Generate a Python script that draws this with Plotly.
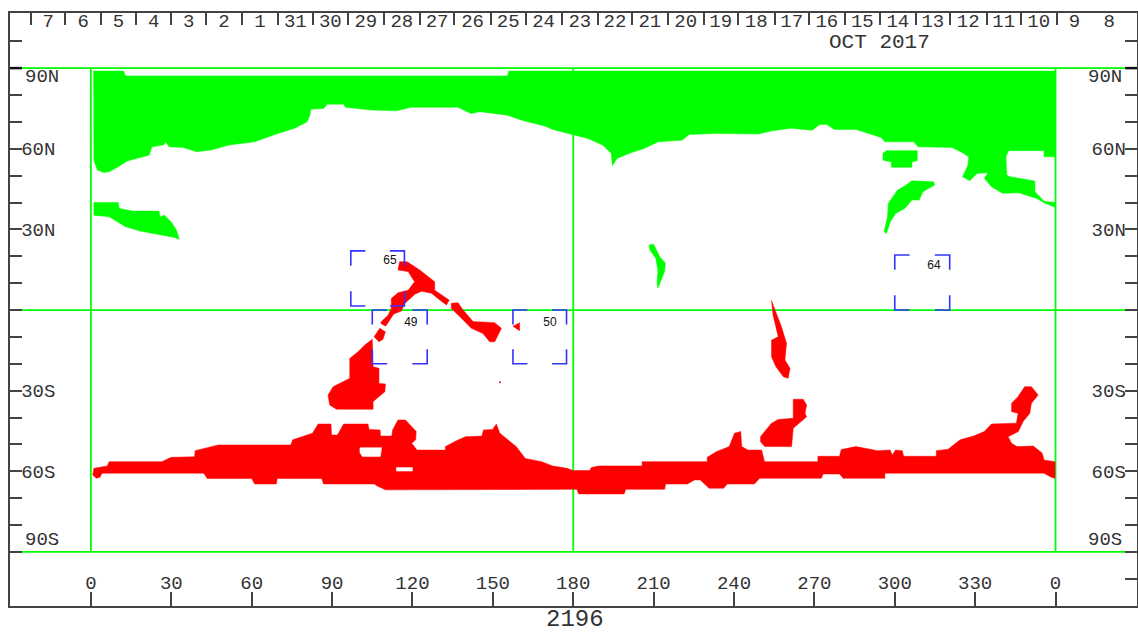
import plotly.graph_objects as go

# --- Axis values -----------------------------------------------------------
lon_ticks = [0, 30, 60, 90, 120, 150, 180, 210, 240, 270, 300, 330, 360]
lon_labels = ["0", "30", "60", "90", "120", "150", "180", "210", "240", "270", "300", "330", "0"]
lat_ticks = [-100, -90, -80, -70, -60, -50, -40, -30, -20, -10, 0, 10, 20, 30, 40, 50, 60, 70, 80, 90, 100]
lat_labels = ["", "", "", "", "60S", "", "", "30S", "", "", "", "", "", "30N", "", "", "60N", "", "", "", ""]
day_ticks = [-22.4, -9.5, 3.7, 16.8, 30, 43, 56.3, 69.8, 82.8, 95.9, 109.3, 122.8, 135.6, 149.3, 162.2, 175.7,
             189.2, 201.9, 215.3, 228.7, 241.4, 255.2, 267.9, 281.4, 294.4, 307.9, 320.5, 334.3, 347, 360.4, 373.8, 386.2]
day_labels = ["7", "6", "5", "4", "3", "2", "1", "31", "30", "29", "28", "27", "26", "25", "24", "23", "22",
              "21", "20", "19", "18", "17", "16", "15", "14", "13", "12", "11", "10", "9", "8"]

# --- Green regions (lon, lat) ----------------------------------------------
arctic_lon = [1, 12.2, 12.9, 155.4, 156, 359.8, 359.8, 355.7, 355.7, 355.4, 342.5, 341.5, 341.8, 342.9, 352.3, 352.3,
              355.7, 359.8, 359.8, 355.7, 353, 346.3, 340.2, 336.1, 333.4, 334.8, 330.7, 328, 325.3, 327.3, 327.6, 325.3,
              321.3, 308.7, 307, 296.3, 294.9, 285.5, 277.4, 274.7, 271.9, 269.2, 261.1, 254.4, 249, 232.8, 223.3, 220.6,
              211.8, 206.4, 201, 196.3, 194.6, 194.2, 190.9, 185.5, 180, 178.8, 172.3, 169.6, 161.5, 155.4, 145.2, 141.8,
              137, 119.4, 114, 104.5, 95, 94.3, 88.2, 86.8, 82.1, 81.7, 80.7, 76, 69.2, 61.1, 51.6, 44.8, 39.3, 34.6, 29.2,
              27.8, 27.1, 22.8, 21.7, 17, 13.6, 10.2, 6.8, 4.7, 2.4, 1.1]
arctic_lat = [88.9, 88.9, 87.1, 87.1, 88.9, 88.9, 57, 57, 59.3, 59.3, 59.3, 57, 50.2, 49.6, 48, 44,
              40.5, 40, 38.2, 39.9, 41.5, 43.6, 43.4, 45.9, 49, 51.1, 50.8, 48.1, 49.6, 53.9, 57, 58.5,
              60.5, 60.7, 62.6, 62.6, 64.2, 67.2, 67.2, 69, 69, 66.9, 67.6, 66.7, 65.5, 65.7, 65.3, 63.2,
              62.6, 60.1, 58.3, 56.4, 53.7, 58.3, 61.4, 63.8, 65.3, 65.7, 67.2, 68.4, 70.4, 72.5, 73.8, 73.1,
              75.4, 75.4, 74.1, 74.4, 75.4, 76.6, 76.6, 75, 74.7, 72.5, 70, 67.6, 65.5, 62.6, 61.4, 59.5, 58.9, 60.5, 60.7,
              62.6, 61.4, 60.7, 57.6, 56.4, 55.4, 53.3, 51.4, 51.2, 52.1, 55.8]
labrador_lon = [295.6, 296.9, 308.4, 308.4, 306.4, 306.4, 298.7, 298.7, 295.6]
labrador_lat = [58.3, 59.3, 59.3, 55.6, 55, 53.1, 53.1, 55.2, 55.7]
atlantic_lon = [306.4, 314.5, 314.9, 310.5, 309.1, 306.4, 303.7, 300.3, 298.3, 296.9, 296, 297.3, 297.6, 301, 303.7]
atlantic_lat = [48.1, 47.7, 46.5, 44, 40.9, 40.9, 37.8, 35.9, 32.8, 28.5, 29.1, 34.7, 39.7, 44.6, 46.1]
west_lon = [1.1, 10.2, 10.6, 15.6, 25.4, 25.8, 27.4, 29.9, 31.9, 33, 31.2, 25.8, 18.3, 12.9, 6.8, 1.1]
west_lat = [40, 40, 37.8, 36.8, 36.8, 34.7, 35.3, 32.8, 29.8, 26.3, 27, 28.1, 29.4, 31, 34.7, 35.3]
pacific_lon = [208.3, 210, 212.3, 214.4, 214.1, 212.9, 211.6, 211.3, 211.6, 210.8, 208.6]
pacific_lat = [24.2, 24.5, 19.8, 17.4, 14.3, 11.2, 8.2, 9.3, 14.9, 19.3, 22.3]

# --- Red regions (lon, lat) ------------------------------------------------
band_lon = [1.1, 6.1, 6.8, 26.5, 29.9, 38.7, 38.9, 47.5, 74.6, 75.3, 82.7, 84.8, 89.6, 89.8, 92, 94.3, 103.4, 103.8,
            107.9, 108.1, 112.3, 112.6, 114.6, 117.4, 121.4, 121.2, 119.7, 121.7, 132.3, 132.3, 136.4, 139.8, 145.9,
            146.5, 149.9, 151.3, 152.6, 158.7, 162.1, 168.2, 172.3, 177.7, 180, 186.1, 186.8, 189.5, 205.7, 205.7,
            219.2, 230, 230, 233.4, 238.2, 240.2, 242.5, 242.9, 245.2, 250.3, 251.4, 271.3, 271.3, 279.4, 280, 285.5,
            293.6, 298.3, 299, 300.3, 302.8, 303.3, 315.5, 315.5, 319.9, 324.4, 329.4, 333.4, 336.1, 345.4, 346, 343.6,
            343.6, 346, 348.5, 351, 353.5, 351, 350.4, 347.9, 346.1, 342.3, 343.6, 345.6, 351.7, 355, 355.7, 359.8,
            359.8, 358.4, 355.7, 296.3, 296.3, 280.7, 279.4, 273.3, 272.6, 249.6, 247.6, 237.5, 236.1, 230.7, 227.4,
            225.3, 222.6, 214.5, 214.1, 199.6, 199, 182, 181.4, 178.7, 109.9, 106.5, 105.8, 86.8, 86.2, 69.5, 69.2,
            61.1, 60, 43.4, 42.1, 4.1, 3.4, 2, 0.7]
band_lat = [-58.9, -58, -56.4, -56.4, -54.8, -54.6, -52.3, -50.2, -50.2, -48.3, -45.8, -42.4, -42.4, -46.5, -46.5, -42.4,
            -42.4, -44.4, -44.6, -46.9, -46.9, -44.6, -40.9, -40.9, -45.2, -48.3, -49.6, -52.1, -52.1, -50.8, -48.6,
            -47.1, -46.9, -44.6, -44.4, -42.4, -45.8, -50.8, -55.2, -56.4, -58, -58.9, -59.7, -59.7, -58.6, -58, -58,
            -56.4, -56.4, -56.4, -54.8, -52.7, -50.8, -45.8, -45.2, -50.8, -52.1, -52.1, -56.4, -56.4, -54.4, -54.4,
            -51.9, -50.8, -52.3, -52.1, -53.9, -52.1, -52.3, -54.4, -54.4, -52.3, -51.8, -48.3, -46.9, -45.2, -42.4,
            -42.1, -38.4, -37.8, -34.7, -32.2, -28.5, -28.5, -31.6, -34.7, -38.4, -41.5, -45.2, -47.1, -49.6, -50.8,
            -50.6, -53.2, -55.8, -56.4, -62.6, -62.2, -60.7, -60.7, -62.6, -62.6, -61, -61, -62.6, -62.6, -64.7, -64.7,
            -66.3, -66.3, -63.2, -63.2, -64.7, -64.7, -66.7, -66.7, -68.4, -68.4, -66.7, -66.7, -66.9, -65.3, -64.7,
            -64.7, -62.7, -62.7, -64.7, -64.7, -62.7, -62.7, -60.7, -60.7, -62.2, -62.6, -61.4]
hole_a_lon = [100.4, 108.5, 108, 101.3, 100.4]
hole_a_lat = [-51.2, -51.2, -54.5, -54.5, -53]
hole_b_lon = [114, 120, 120, 114]
hole_b_lat = [-58.6, -58.6, -59.9, -59.9]
indian_lon = [105, 105.3, 107.5, 107.5, 109.9, 109.7, 107.5, 105.3, 105.3, 91.6, 89.1, 88.5, 90.4, 94.1, 96.6, 96.6, 99.7, 102.2]
indian_lat = [-10.9, -21.1, -21.7, -27.3, -27.5, -30.4, -32.2, -34.1, -36.9, -36.9, -35.3, -31.6, -28.5, -26.7, -25.4, -18, -15.5, -13]
blob_lon = [107.8, 109.9, 109, 107.5, 105.7]
blob_lat = [-6.8, -8.1, -10.9, -11.8, -9.9]
vee_lon = [108.4, 110.9, 112.1, 112.1, 114.6, 118.4, 120.8, 118.4, 114.6, 115.2, 118, 122.7, 128.3, 128.3, 133.7, 132.7,
           130.2, 127.1, 123.5, 121, 117.2, 115.8, 113, 110, 108.2]
vee_lat = [-4.3, -1.9, 0.6, 4.3, 6.4, 7.4, 10.5, 14.3, 14.9, 18, 18, 14.9, 10.5, 7.4, 3.7, 1.9,
           3.7, 6.2, 7, 6, 2.5, -0.4, -1.5, -6, -5]
arm_lon = [134.5, 137, 138.9, 142.6, 150.7, 153.2, 150.7, 148.8, 146.3, 142, 138.3, 134.5]
arm_lat = [2.5, 2.7, 0, -4.3, -4.7, -6.8, -11.8, -11.8, -8.7, -6.8, -3.1, 0.6]
tri_lon = [157.5, 160, 160]
tri_lat = [-6, -4.7, -7.7]
spike_lon = [254, 255.3, 257.7, 259.6, 259, 260.9, 260.2, 258.4, 255.6, 254, 254, 256.5, 254.6]
spike_lat = [3.5, 0, -6.2, -12.4, -18.6, -21.7, -25.4, -24.8, -21, -17.4, -11.2, -9.9, -1.9]
samerica_lon = [262.1, 265.8, 267.1, 266.5, 267.1, 262.1, 261.5, 251.5, 249.9, 249.9, 254, 256.5, 262.1]
samerica_lat = [-33.2, -33.2, -35.3, -38.4, -39.7, -44, -50.8, -50.8, -49, -47.1, -42.1, -40.7, -40.3]
speck_lon = [152.7]
speck_lat = [-26.9]

# --- Boxes -----------------------------------------------------------------
box_names = ["65", "49", "50", "64"]
box_lon0 = [97, 105, 157.5, 300]
box_lon1 = [117, 125.5, 177.5, 320.5]
box_lat0 = [1.5, -20, -20, 0]
box_lat1 = [22, 0, 0, 20.5]
box_label_lon = [111.6, 119.4, 171.3, 314.6]
box_label_lat = [18.2, -4.8, -4.8, 16.4]

GREEN = "#00ff00"
RED = "#ff0000"
BLUE = "#3333ff"
FRAME = "#444444"
INK = "#333333"
MONO = "Liberation Mono"
X_RANGE = [-30.2, 390.4]
Y_RANGE = [-110.1, 110.5]

fig = go.Figure()


def add_line(xs, ys, width=1.8):
    fig.add_trace(go.Scatter(x=xs, y=ys, mode="lines", line=dict(color=GREEN, width=width),
                             hoverinfo="skip", showlegend=False))


# Reference lines sit underneath the filled regions
add_line([-26, 386], [90, 90])
add_line([-26, 386], [-90, -90])
add_line(X_RANGE, [0, 0])
for meridian in (0, 180, 360):
    add_line([meridian, meridian], [-90, 90])


def add_region(xs, ys, color):
    fig.add_trace(go.Scatter(x=xs + xs[:1], y=ys + ys[:1], mode="lines", fill="toself", fillcolor=color,
                             line=dict(color=color, width=0.5), hoverinfo="skip", showlegend=False))


for xs, ys in [(arctic_lon, arctic_lat), (labrador_lon, labrador_lat), (atlantic_lon, atlantic_lat),
               (west_lon, west_lat), (pacific_lon, pacific_lat)]:
    add_region(xs, ys, GREEN)
for xs, ys in [(band_lon, band_lat), (indian_lon, indian_lat), (blob_lon, blob_lat), (vee_lon, vee_lat),
               (arm_lon, arm_lat), (tri_lon, tri_lat), (spike_lon, spike_lat), (samerica_lon, samerica_lat)]:
    add_region(xs, ys, RED)
for xs, ys in [(hole_a_lon, hole_a_lat), (hole_b_lon, hole_b_lat)]:
    add_region(xs, ys, "#ffffff")
fig.add_trace(go.Scatter(x=speck_lon, y=speck_lat, mode="markers", marker=dict(color=RED, size=2),
                         hoverinfo="skip", showlegend=False))

# Corner brackets of the four boxes
ARM = 0.27
for x0, x1, y0, y1 in zip(box_lon0, box_lon1, box_lat0, box_lat1):
    dx = (x1 - x0) * ARM
    dy = (y1 - y0) * ARM
    xs = [x0, x0, x0 + dx, None, x1 - dx, x1, x1, None, x1, x1, x1 - dx, None, x0 + dx, x0, x0]
    ys = [y1 - dy, y1, y1, None, y1, y1, y1 - dy, None, y0 + dy, y0, y0, None, y0, y0, y0 + dy]
    fig.add_trace(go.Scatter(x=xs, y=ys, mode="lines", line=dict(color=BLUE, width=1.6),
                             hoverinfo="skip", showlegend=False))
fig.add_trace(go.Scatter(x=box_label_lon, y=box_label_lat, mode="text", text=box_names,
                         textfont=dict(family="Liberation Sans", size=12, color="#111111"),
                         hoverinfo="skip", showlegend=False))

# Day labels sit between the day ticks on the top axis
day_mid = [(a + b) / 2 for a, b in zip(day_ticks[:-1], day_ticks[1:])]
fig.add_trace(go.Scatter(x=day_mid, y=[107] * len(day_mid), mode="text", text=day_labels,
                         textfont=dict(family=MONO, size=19, color=INK),
                         xaxis="x2", yaxis="y2", hoverinfo="skip", showlegend=False))

common = dict(showgrid=False, zeroline=False, showline=True, linecolor=FRAME, linewidth=2,
              ticks="inside", tickcolor=FRAME, tickwidth=1.5,
              tickfont=dict(family=MONO, size=19, color=INK))

fig.update_layout(
    width=1138, height=635, margin=dict(l=10, r=1, t=13, b=29, pad=0),
    paper_bgcolor="white", plot_bgcolor="white", showlegend=False,
    xaxis=dict(range=X_RANGE, side="bottom", tickmode="array", tickvals=lon_ticks, ticktext=lon_labels,
               ticklen=14, ticklabelposition="inside", **common),
    xaxis2=dict(range=X_RANGE, side="top", overlaying="x", anchor="y", tickmode="array", tickvals=day_ticks,
                ticktext=[""] * len(day_ticks), ticklen=12, **common),
    yaxis=dict(range=Y_RANGE, side="left", tickmode="array", tickvals=lat_ticks, ticktext=lat_labels,
               ticklen=12, ticklabelposition="inside", **common),
    yaxis2=dict(range=Y_RANGE, side="right", overlaying="y", anchor="x", tickmode="array", tickvals=lat_ticks,
                ticktext=lat_labels, ticklen=12, ticklabelposition="inside", **common),
    shapes=[dict(type="line", xref="paper", x0=0, x1=0.0105, yref="y", y0=90, y1=90, line=dict(color="#111111", width=2.5)),
            dict(type="line", xref="paper", x0=0.9895, x1=1, yref="y", y0=90, y1=90, line=dict(color="#111111", width=2.5))],
    annotations=[
        dict(text="90N", xref="paper", x=0.0115, xanchor="left", yref="y", y=86.8, yanchor="middle", showarrow=False,
             font=dict(family=MONO, size=19, color=INK)),
        dict(text="90S", xref="paper", x=0.0115, xanchor="left", yref="y", y=-85.5, yanchor="middle", showarrow=False,
             font=dict(family=MONO, size=19, color=INK)),
        dict(text="90N", xref="paper", x=0.9885, xanchor="right", yref="y", y=86.8, yanchor="middle", showarrow=False,
             font=dict(family=MONO, size=19, color=INK)),
        dict(text="90S", xref="paper", x=0.9885, xanchor="right", yref="y", y=-85.5, yanchor="middle", showarrow=False,
             font=dict(family=MONO, size=19, color=INK)),
        dict(text="OCT 2017", xref="x", x=294.4, xanchor="center", yref="y", y=99.7, yanchor="middle", showarrow=False,
             font=dict(family=MONO, size=21, color=INK)),
        dict(text="2196", xref="x", x=180.5, xanchor="center", yref="paper", y=-0.022, yanchor="middle", showarrow=False,
             font=dict(family=MONO, size=24, color=INK)),
    ],
)

fig.write_html("out.html", config={"displayModeBar": False}, post_script="document.body.style.margin='0';")
